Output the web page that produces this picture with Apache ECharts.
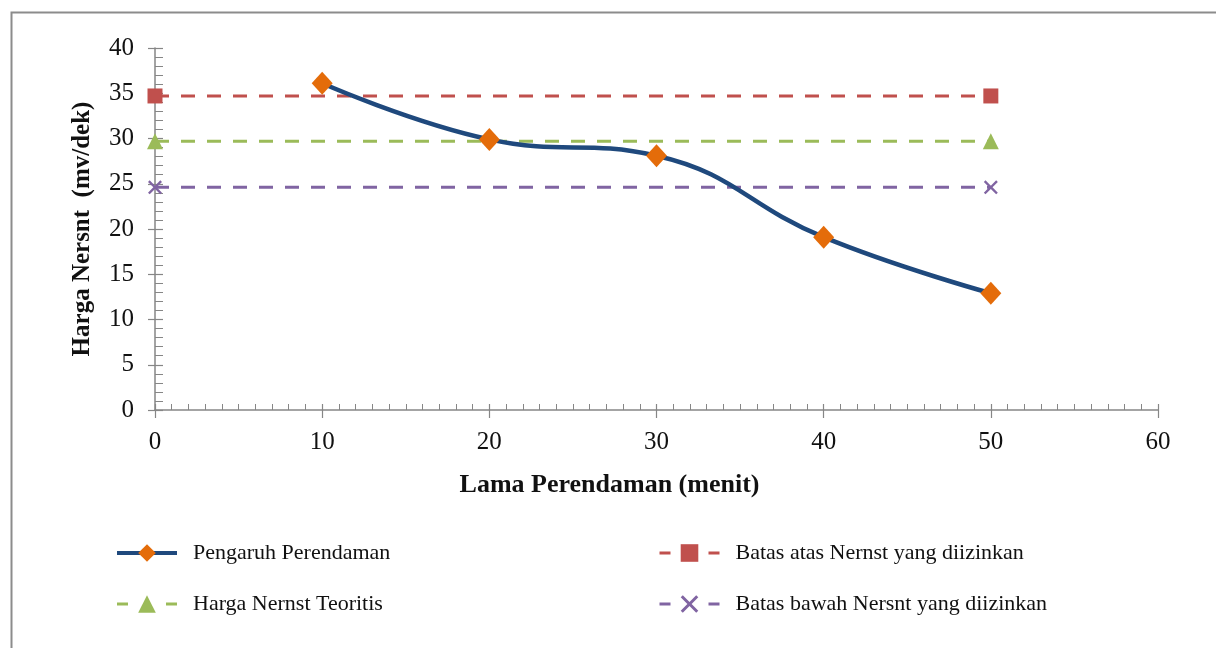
<!DOCTYPE html>
<html>
<head>
<meta charset="utf-8">
<script src="https://cdn.jsdelivr.net/npm/echarts@6/dist/echarts.min.js"></script>
<style>html,body{margin:0;padding:0;background:#fff;}#c{width:1216px;height:648px;}</style>
</head>
<body>
<div id="c"></div>
<script>
const xTimes = [10, 20, 30, 40, 50];
const pengaruh = [36.1, 29.9, 28.1, 19.1, 12.9];
const refX = [0, 50];
const batasAtas = [34.7, 34.7];
const teoritis = [29.7, 29.7];
const batasBawah = [24.6, 24.6];
const seriesNames = ['Pengaruh Perendaman', 'Batas atas Nernst yang diizinkan', 'Harga Nernst Teoritis', 'Batas bawah Nersnt yang diizinkan'];
const xTitle = 'Lama Perendaman (menit)';
const yTitle = 'Harga Nersnt  (mv/dek)';

const FONT = '"Liberation Serif", "Times New Roman", serif';
const pairs = (xs, ys) => xs.map((x, i) => [x, ys[i]]);
const crossPath = 'path://M0,1.2L1.2,0L5,3.8L8.8,0L10,1.2L6.2,5L10,8.8L8.8,10L5,6.2L1.2,10L0,8.8L3.8,5Z';
const dash = [14, 12];
const legendDash = [11, 38];

const chart = echarts.init(document.getElementById('c'));
const axisGray = '#868686';
const legendText = {fontFamily: FONT, fontSize: 22, color: '#111', padding: [0, 0, 0, 11]};
chart.setOption({
  animation: false,
  backgroundColor: '#fff',
  graphic: [{
    type: 'rect', left: 9, top: 10, shape: {width: 1300, height: 700},
    style: {fill: 'none', stroke: '#8c8c8c', lineWidth: 2}, z: -1
  }],
  grid: {left: 155, right: 58, top: 48, bottom: 238, containLabel: false},
  legend: [{
    left: 115, top: 542, padding: 0, orient: 'vertical', itemWidth: 60, itemHeight: 22, itemGap: 29,
    textStyle: legendText,
    data: [
      {name: seriesNames[0], lineStyle: {width: 4}},
      {name: seriesNames[2], lineStyle: {type: legendDash, width: 3}}
    ]
  }, {
    left: 658, top: 542, padding: 0, orient: 'vertical', itemWidth: 60, itemHeight: 22, itemGap: 29,
    textStyle: legendText,
    data: [
      {name: seriesNames[1], lineStyle: {type: legendDash, width: 3}},
      {name: seriesNames[3], lineStyle: {type: legendDash, width: 3}}
    ]
  }],
  xAxis: [{
    type: 'value', min: 0, max: 60, interval: 10, position: 'bottom',
    name: xTitle, nameLocation: 'middle', nameGap: 62,
    nameTextStyle: {fontFamily: FONT, fontSize: 26, fontWeight: 'bold', color: '#111', padding: [0, 94, 0, 0]},
    axisLine: {lineStyle: {color: axisGray, width: 1.5}},
    axisTick: {show: true, inside: true, length: 6, lineStyle: {color: axisGray, width: 1.2}},
    minorTick: {show: true, splitNumber: 10, length: 6, lineStyle: {color: axisGray, width: 1}},
    axisLabel: {fontFamily: FONT, fontSize: 25, color: '#111', margin: 20},
    splitLine: {show: false}
  }, {
    type: 'value', min: 0, max: 60, interval: 10, position: 'bottom', offset: 0,
    axisLine: {show: false},
    axisTick: {show: true, inside: false, length: 8, lineStyle: {color: axisGray, width: 1.2}},
    axisLabel: {show: false}, splitLine: {show: false}
  }],
  yAxis: [{
    type: 'value', min: 0, max: 40, interval: 5, position: 'left',
    name: yTitle, nameLocation: 'middle', nameGap: 60, nameRotate: 90,
    nameTextStyle: {fontFamily: FONT, fontSize: 25, fontWeight: 'bold', color: '#111'},
    axisLine: {show: true, lineStyle: {color: axisGray, width: 1.5}},
    axisTick: {show: true, inside: true, length: 8, lineStyle: {color: axisGray, width: 1.2}},
    minorTick: {show: true, splitNumber: 5, length: 8, lineStyle: {color: axisGray, width: 1}},
    axisLabel: {fontFamily: FONT, fontSize: 25, color: '#111', margin: 21},
    splitLine: {show: false}
  }, {
    type: 'value', min: 0, max: 40, interval: 5, position: 'left', offset: 0,
    axisLine: {show: false},
    axisTick: {show: true, inside: false, length: 7, lineStyle: {color: axisGray, width: 1.2}},
    axisLabel: {show: false}, splitLine: {show: false}
  }],
  series: [{
    name: seriesNames[0], type: 'line', smooth: 0.45,
    data: pairs(xTimes, pengaruh),
    lineStyle: {color: '#1F497D', width: 4.5},
    itemStyle: {color: '#E46C0A'},
    symbol: 'diamond', symbolSize: [21, 23], z: 5
  }, {
    name: seriesNames[1], type: 'line',
    data: pairs(refX, batasAtas),
    lineStyle: {color: '#C0504D', width: 3, type: dash},
    itemStyle: {color: '#C0504D'},
    symbol: 'rect', symbolSize: 15
  }, {
    name: seriesNames[2], type: 'line',
    data: pairs(refX, teoritis),
    lineStyle: {color: '#9BBB59', width: 3, type: dash},
    itemStyle: {color: '#9BBB59'},
    symbol: 'triangle', symbolSize: 16
  }, {
    name: seriesNames[3], type: 'line',
    data: pairs(refX, batasBawah),
    lineStyle: {color: '#8064A2', width: 3, type: dash},
    itemStyle: {color: '#8064A2'},
    symbol: crossPath, symbolSize: 14
  }]
});
</script>
</body>
</html>
